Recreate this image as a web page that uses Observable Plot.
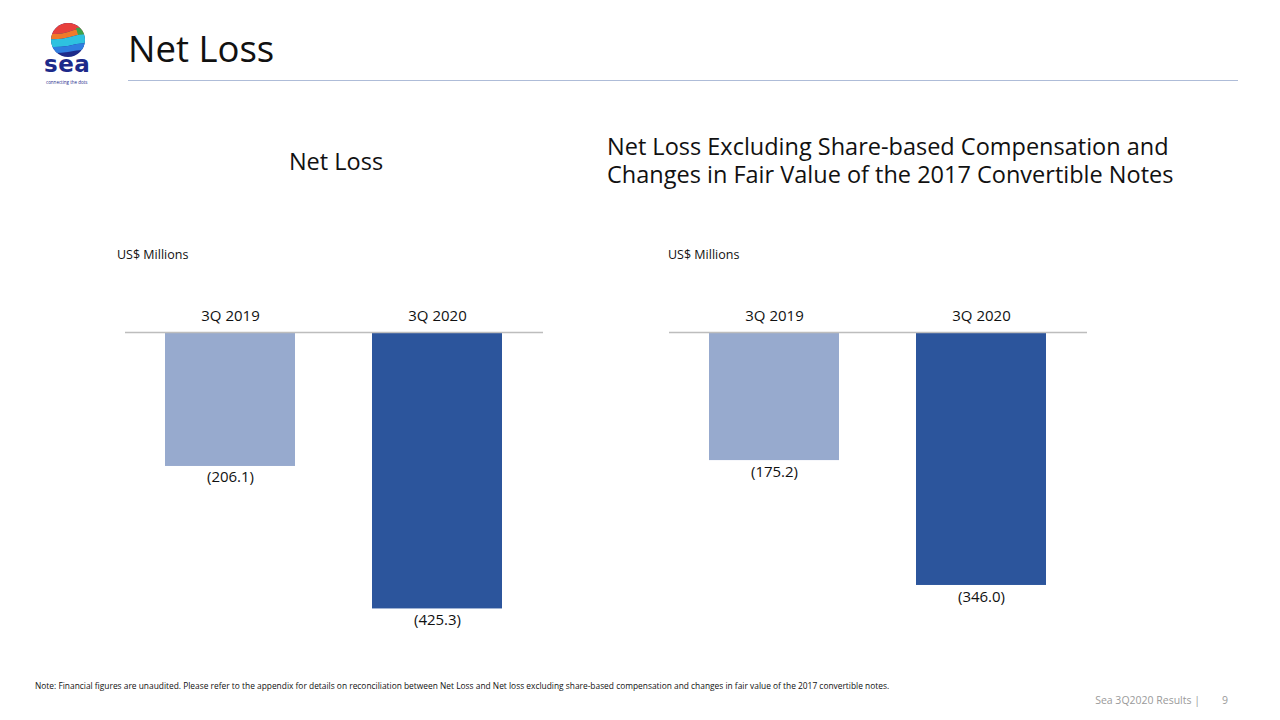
<!DOCTYPE html>
<html>
<head>
<meta charset="utf-8">
<script src="https://cdn.jsdelivr.net/npm/d3@7"></script>
<script src="https://cdn.jsdelivr.net/npm/@observablehq/plot@0.6"></script>
<style>
  html, body { margin: 0; padding: 0; background: #fff; }
  body { width: 1280px; height: 720px; position: relative; overflow: hidden; font-family: "Open Sans", sans-serif; color: #111; }
  .abs { position: absolute; }
  #title { left: 128px; top: 26px; font-size: 36.5px; line-height: 44px; color: #111; }
  #hline { left: 128px; top: 80px; width: 1110px; height: 0; border-top: 1.5px solid #aebcd8; }
  .ct { font-size: 23.5px; line-height: 27px; height: 27px; color: #111; white-space: nowrap; }
  .unit { font-size: 12.5px; color: #111; }
  #note { left: 35px; top: 680px; font-size: 8.4px; color: #111; white-space: nowrap; }
  #foot { left: 1000px; width: 200px; text-align: right; top: 693px; font-size: 10.5px; color: #9a9a9a; }
  #page { left: 1222px; top: 693px; font-size: 10.5px; color: #9a9a9a; }
</style>
</head>
<body>
<div class="abs" style="left:42px;top:16px;">
  <svg width="52" height="48" viewBox="0 0 52 48">
    <defs><clipPath id="cc"><circle cx="26" cy="24" r="17"/></clipPath></defs>
    <g clip-path="url(#cc)">
      <rect x="0" y="0" width="52" height="48" fill="#1d2a8a"/>
      <path d="M0 0 H52 V14 Q40 10 26 16 Q14 20 0 16 Z" fill="#e8403c"/>
      <path d="M0 16 Q14 20 26 16 Q40 10 52 14 V19 Q40 17 28 21 Q14 25 0 22 Z" fill="#f07a2a"/>
      <path d="M34 12 Q44 10 52 13 V20 Q44 18 36 19 Z" fill="#3aa34a"/>
      <path d="M0 22 Q14 25 28 21 Q40 17 52 19 V28 Q40 26 26 30 Q12 32 0 30 Z" fill="#2ec2e0"/>
      <path d="M0 30 Q12 32 26 30 Q40 26 52 28 V34 Q38 33 26 36 Q12 38 0 36 Z" fill="#2f7ee0"/>
    </g>
  </svg>
</div>
<div class="abs" style="left:44px;top:51px;font-family:'DejaVu Sans',sans-serif;font-weight:bold;font-size:23px;color:#1d2a8a;letter-spacing:0.5px;">sea</div>
<div class="abs" style="left:46px;top:79px;font-size:4.5px;color:#1d2a8a;">connecting the dots</div>

<div id="title" class="abs">Net Loss</div>
<div id="hline" class="abs"></div>

<div class="abs ct" style="left:236px;width:200px;text-align:center;top:148px;">Net Loss</div>
<div class="abs ct" style="left:607px;top:133px;">Net Loss Excluding Share-based Compensation and</div>
<div class="abs ct" style="left:607px;top:161px;">Changes in Fair Value of the 2017 Convertible Notes</div>

<div class="abs unit" style="left:117px;top:246px;">US$ Millions</div>
<div class="abs unit" style="left:668px;top:246px;">US$ Millions</div>

<div id="chartL" class="abs" style="left:125px;top:290px;"></div>
<div id="chartR" class="abs" style="left:669px;top:290px;"></div>

<div id="note" class="abs">Note: Financial figures are unaudited. Please refer to the appendix for details on reconciliation between Net Loss and Net loss excluding share-based compensation and changes in fair value of the 2017 convertible notes.</div>
<div id="foot" class="abs">Sea 3Q2020 Results |</div>
<div id="page" class="abs">9</div>

<script>
const categories = ["3Q 2019", "3Q 2020"];
const netLoss = [-206.1, -425.3];
const netLossAdj = [-175.2, -346.0];
const barColors = ["#97aace", "#2c559c"];

function fmt(v) { return "(" + Math.abs(v).toFixed(1) + ")"; }

function makeChart(values, yMin, plotH, labelDy) {
  const data = categories.map((c, i) => ({cat: c, value: values[i], color: barColors[i]}));
  return Plot.plot({
    width: 418,
    height: 42 + plotH,
    marginTop: 42,
    marginBottom: 0,
    marginLeft: 0,
    marginRight: 0,
    style: {fontFamily: "Open Sans, sans-serif", fontSize: "15px", color: "#111", background: "transparent"},
    x: {domain: categories, paddingInner: 0.37, paddingOuter: 0.19, axis: null},
    y: {domain: [yMin, 0], axis: null},
    marks: [
      Plot.barY(data, {x: "cat", y: "value", fill: "color"}),
      Plot.ruleY([0], {stroke: "#bdbdbd", strokeWidth: 1.5}),
      Plot.axisX({anchor: "top", tickSize: 0, tickPadding: 12, fontSize: 15, label: null}),
      Plot.text(data, {x: "cat", y: "value", text: d => fmt(d.value), lineAnchor: "top", dy: labelDy, fontSize: 15, fill: "#111"})
    ]
  });
}

document.getElementById("chartL").appendChild(makeChart(netLoss, -500, 325, 5));
document.getElementById("chartR").appendChild(makeChart(netLossAdj, -450, 329, 6));
</script>
</body>
</html>
